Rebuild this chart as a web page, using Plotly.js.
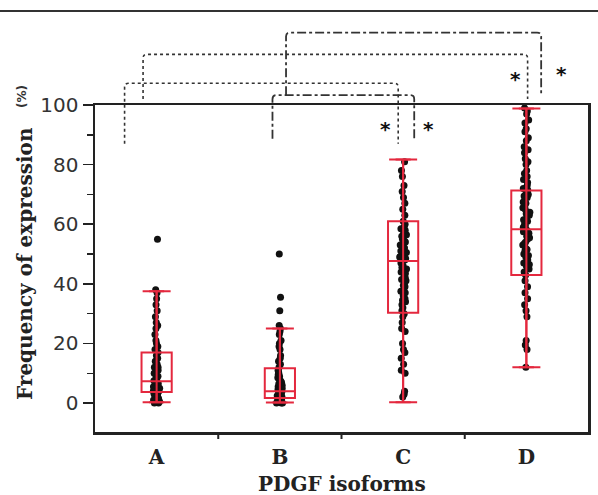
<!DOCTYPE html>
<html>
<head>
<meta charset="utf-8">
<script src="https://cdn.plot.ly/plotly-3.0.1.min.js"></script>
<style>html,body{margin:0;padding:0;background:#fff;}#chart{width:598px;height:495px;}</style>
</head>
<body>
<div id="chart"></div>
<script>
// ---- data ----
const categories = ['A', 'B', 'C', 'D'];
const q1Values = [3.7, 1.7, 30.3, 43];
const medianValues = [7.3, 4, 47.7, 58.3];
const q3Values = [17, 11.7, 61, 71.3];
const lowerWhisker = [0.3, 0.2, 0.3, 12];
const upperWhisker = [37.5, 25, 81.7, 98.8];
const pointsA = [55, 38, 37, 35, 33, 31, 29, 27, 26, 25, 23, 21, 20, 19, 18, 17, 16, 15, 14, 14, 13, 12, 12, 11, 10, 10, 9, 9, 8, 8, 7.5, 7, 7, 6.5, 6, 6, 5.5, 5, 5, 4.5, 4, 4, 3.5, 3, 3, 2.5, 2, 2, 1.5, 1, 1, 0.5, 0, 0];
const pointsB = [50, 35.5, 31, 26, 25, 24, 23, 21, 20, 19, 18, 16, 15, 14, 13, 12, 11, 10.5, 10, 9.5, 9, 8.5, 8, 7.5, 7, 6.5, 6, 5.5, 5, 4.5, 4, 4, 3.5, 3, 3, 2.5, 2, 2, 1.5, 1.5, 1, 1, 0.5, 0.5, 0, 0, 0];
const pointsC = [81, 78, 76, 73, 71, 69, 67, 65, 63, 61, 60, 59, 58.5, 58, 57, 56.5, 56, 55, 54.5, 54, 53, 52.5, 52, 51, 50.5, 50, 49, 48.5, 48, 47.5, 47, 46, 45.5, 45, 44, 43.5, 43, 42, 41.5, 41, 40, 39.5, 39, 38, 37.5, 37, 36, 35, 34.5, 34, 33, 32, 31, 30, 29, 27, 25, 24, 20, 18, 17, 15, 13, 11, 10, 4, 3, 2];
const pointsD = [99, 98, 97, 95, 94, 92, 91, 89, 88, 86, 85, 84, 82, 81, 80, 78, 77, 76, 75, 74, 73, 72, 71.5, 71, 70, 69.5, 69, 68, 67.5, 67, 66, 65.5, 65, 64, 63.5, 63, 62, 61.5, 61, 60, 59.5, 59, 58, 57.5, 57, 56, 55.5, 55, 54, 53.5, 53, 52, 51.5, 51, 50, 49.5, 49, 48, 47, 46.5, 46, 45, 44, 43, 41, 39, 37, 35, 33, 31, 29, 21, 19.5, 18, 12];
const yTickVals = [0, 20, 40, 60, 80, 100];
const yMinorVals = [10, 30, 50, 70, 90];

// ---- layout constants ----
const W = 598, H = 495;
const M = {l: 95, r: 10, t: 105, b: 63};
const plotW = W - M.l - M.r, plotH = H - M.t - M.b;
const xRange = [-0.5, 3.5];
const yRange = [-9.7, 100];
const RED = '#e4283e';
const AXIS = '#222';
const serifBold = {family: 'DejaVu Serif', size: 20, color: '#222', weight: 'bold'};

function px(v) { return (v - xRange[0]) / (xRange[1] - xRange[0]); }
function py(v) { return (v - yRange[0]) / (yRange[1] - yRange[0]); }
function pixX(p) { return (p - M.l) / plotW; }
function pixY(p) { return (H - M.b - p) / plotH; }

// bracket specs (category units / data units)
const brackets = [
  {x0: -0.11, x1: 3.01, top: 117, yb0: 102, yb1: 102, dash: 'dot', w: 1.6},
  {x0: -0.26, x1: 1.96, top: 107.3, yb0: 87, yb1: 87, dash: 'dot', w: 1.6},
  {x0: 1.05, x1: 3.12, top: 124.3, yb0: 103.3, yb1: 103.6, dash: 'dashdot', w: 1.8},
  {x0: 0.94, x1: 2.09, top: 103.3, yb0: 88.7, yb1: 88.7, dash: 'dashdot', w: 1.8}
];
const stars = [
  {x: 1.858, y: 92}, {x: 2.207, y: 92}, {x: 2.915, y: 108.7}, {x: 3.289, y: 110.3}
];

const shapes = brackets.map(b => {
  const rx = 4 / plotW, ry = 4 / plotH;
  const X0 = px(b.x0), X1 = px(b.x1), T = py(b.top), B0 = py(b.yb0), B1 = py(b.yb1);
  const path = `M${X0},${B0} L${X0},${T - ry} Q${X0},${T} ${X0 + rx},${T} L${X1 - rx},${T} Q${X1},${T} ${X1},${T - ry} L${X1},${B1}`;
  return {type: 'path', xref: 'paper', yref: 'paper', path: path, line: {color: '#333', width: b.w, dash: b.dash}};
});
// top rule of the figure
shapes.push({type: 'line', xref: 'paper', yref: 'paper', x0: pixX(0), x1: pixX(W),
  y0: pixY(11), y1: pixY(11), line: {color: '#333', width: 2}});
// x ticks at category boundaries (inner only)
[0.5, 1.5, 2.5].forEach(b => {
  shapes.push({type: 'line', xref: 'paper', yref: 'paper', layer: 'above', x0: px(b), x1: px(b),
    y0: pixY(432), y1: pixY(439), line: {color: AXIS, width: 2}});
});

const allX = [], allY = [];
[pointsA, pointsB, pointsC, pointsD].forEach((arr, i) => {
  arr.forEach(v => { allX.push(categories[i]); allY.push(v); });
});

const traces = [
  {
    type: 'box', x: allX, y: allY, boxpoints: 'all', jitter: 0.25, pointpos: 0,
    width: 0.245, line: {width: 0, color: 'rgba(0,0,0,0)'}, fillcolor: 'rgba(0,0,0,0)',
    marker: {color: '#111', size: 7}, hoverinfo: 'skip', showlegend: false
  },
  {
    type: 'box', x: categories, q1: q1Values, median: medianValues, q3: q3Values,
    lowerfence: lowerWhisker, upperfence: upperWhisker, boxpoints: false,
    width: 0.245, line: {color: RED, width: 2}, fillcolor: 'rgba(0,0,0,0)',
    hoverinfo: 'skip', showlegend: false
  },
  {
    type: 'scatter', mode: 'markers', x: categories, y: lowerWhisker,
    marker: {size: 1, color: 'rgba(0,0,0,0)'},
    error_y: {type: 'data', symmetric: false,
      array: upperWhisker.map((u, i) => u - lowerWhisker[i]),
      arrayminus: lowerWhisker.map(() => 0),
      color: RED, thickness: 2, width: 14},
    hoverinfo: 'skip', showlegend: false
  }
];

const annotations = stars.map(s => ({
  x: px(s.x), y: py(s.y), xref: 'paper', yref: 'paper', text: '*', showarrow: false,
  xanchor: 'center', yanchor: 'middle',
  font: {family: 'DejaVu Sans', size: 20, color: '#111', weight: 'bold'}
}));
annotations.push({
  xref: 'paper', yref: 'paper', x: pixX(25), y: pixY(264), xanchor: 'center', yanchor: 'middle',
  text: 'Frequency of expression', textangle: -90, showarrow: false, font: serifBold
});
annotations.push({
  xref: 'paper', yref: 'paper', x: pixX(22), y: pixY(97), xanchor: 'center', yanchor: 'middle',
  text: '(%)', textangle: -90, showarrow: false,
  font: {family: 'DejaVu Sans', size: 12, color: '#333', weight: 'bold'}
});
annotations.push({
  xref: 'paper', yref: 'paper', x: 0.5, y: pixY(484), xanchor: 'center', yanchor: 'middle',
  text: 'PDGF isoforms', showarrow: false, font: serifBold
});

const layout = {
  width: W, height: H, margin: M, paper_bgcolor: '#fff', plot_bgcolor: '#fff',
  boxmode: 'overlay', showlegend: false, hovermode: false,
  xaxis: {
    type: 'category', categoryorder: 'array', categoryarray: categories, range: xRange,
    ticks: '', ticklabelstandoff: 5,
    showline: true, mirror: true, linewidth: 2.5, linecolor: AXIS, showgrid: false, zeroline: false,
    tickfont: serifBold, fixedrange: true
  },
  yaxis: {
    range: yRange, tickmode: 'array', tickvals: yTickVals,
    ticks: 'outside', ticklen: 10, tickwidth: 1.5, tickcolor: AXIS,
    minor: {tickmode: 'array', tickvals: yMinorVals, ticks: 'outside', ticklen: 6, tickwidth: 1.5, tickcolor: AXIS, showgrid: false},
    showline: true, mirror: true, linewidth: 2.5, linecolor: AXIS, showgrid: false, zeroline: false,
    tickfont: {family: 'DejaVu Sans', size: 20, color: '#333'}, fixedrange: true
  },
  shapes: shapes,
  annotations: annotations
};

Plotly.newPlot('chart', traces, layout, {staticPlot: true, displayModeBar: false});
</script>
</body>
</html>
